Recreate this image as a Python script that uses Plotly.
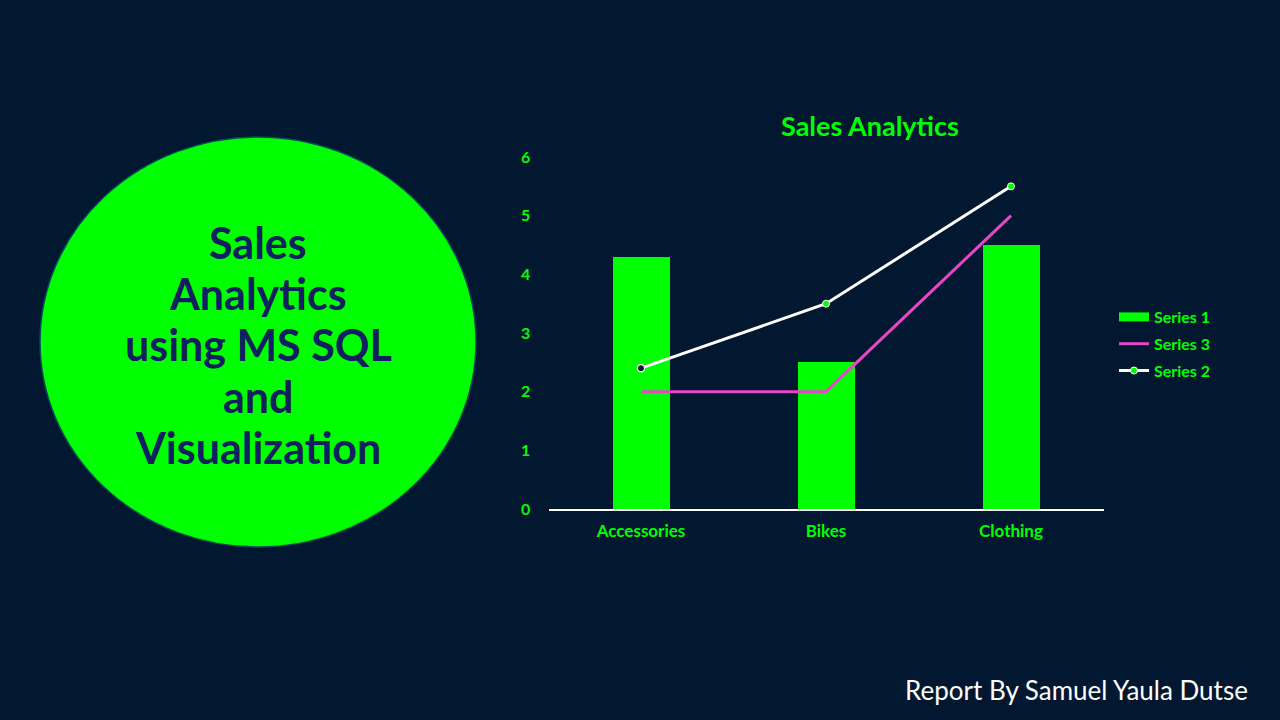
import plotly.graph_objects as go

categories = ["Accessories", "Bikes", "Clothing"]
series1 = [4.3, 2.5, 4.5]
series2 = [2.4, 3.5, 5.5]
series3 = [2.0, 2.0, 5.0]
y_ticks = [0, 1, 2, 3, 4, 5, 6]
circle_lines = ["Sales", "Analytics", "using MS SQL", "and", "Visualization"]

BG = "#021730"
GREEN = "#00FF00"
NAVY = "#0E2060"
PINK = "#E845C8"
FONT = "Lato"

fig = go.Figure()
# bars (legend entry drawn as a wide swatch via a legend-only trace)
fig.add_trace(go.Bar(x=categories, y=series1, name="Series 1", showlegend=False,
                     legendgroup="s1",
                     marker=dict(color=GREEN, line=dict(width=0)), width=0.31))
fig.add_trace(go.Scatter(x=[None], y=[None], name="Series 1", mode="lines",
                         legendgroup="s1", line=dict(color=GREEN, width=9)))
fig.add_trace(go.Scatter(x=categories, y=series3, name="Series 3", mode="lines",
                         legendgroup="s3", line=dict(color=PINK, width=3)))
fig.add_trace(go.Scatter(x=categories, y=series2, name="Series 2", mode="lines+markers",
                         legendgroup="s2",
                         line=dict(color="white", width=3),
                         marker=dict(size=7, color=GREEN,
                                     line=dict(color="white", width=1))))
# first point of Series 2 drawn hollow as in the reference
fig.add_trace(go.Scatter(x=categories[:1], y=series2[:1], mode="markers",
                         showlegend=False, legendgroup="s2",
                         marker=dict(size=7, color=BG, line=dict(color="white", width=1.2))))

fig.update_layout(
    width=1280, height=720, autosize=False,
    paper_bgcolor=BG, plot_bgcolor=BG,
    margin=dict(l=0, r=0, t=0, b=0, pad=0, autoexpand=False),
    font=dict(family=FONT, color=GREEN),
    showlegend=True,
    legend=dict(x=1114/1280, y=(720-344)/720, xanchor="left", yanchor="middle",
                font=dict(family=FONT, size=16, color=GREEN, weight="bold"),
                bgcolor="rgba(0,0,0,0)", itemwidth=30, tracegroupgap=3,
                traceorder="grouped"),
    xaxis=dict(domain=[548.5/1280, 1103.5/1280], showgrid=False,
               showline=True, linecolor="white", linewidth=1.5,
               tickfont=dict(family=FONT, size=17, color=GREEN, weight="bold"),
               ticks="outside", ticklen=6, tickcolor="rgba(0,0,0,0)", zeroline=False,
               automargin=False),
    yaxis=dict(domain=[(720-509)/720, (720-157)/720], range=[0, 6],
               tickvals=y_ticks, showgrid=False, zeroline=False, showline=False,
               tickfont=dict(family=FONT, size=16, color=GREEN, weight="bold"),
               ticks="outside", ticklen=14, tickcolor="rgba(0,0,0,0)",
               automargin=False),
    bargap=0,
)

fig.add_annotation(text="Sales Analytics", xref="paper", yref="paper",
                   x=870/1280, y=(720-125)/720, xanchor="center", yanchor="middle",
                   showarrow=False,
                   font=dict(family=FONT, size=27, color=GREEN, weight="bold"))

fig.add_shape(type="circle", xref="paper", yref="paper",
              x0=40/1280, x1=476/1280, y0=(720-547)/720, y1=(720-137)/720,
              fillcolor=GREEN, line=dict(color="#0B4A55", width=1.5), layer="below")

line_centres = [242, 293, 344, 396, 447]
for txt, yc in zip(circle_lines, line_centres):
    fig.add_annotation(text=txt, xref="paper", yref="paper", x=258/1280, y=(720-yc)/720,
                       xanchor="center", yanchor="middle", showarrow=False,
                       font=dict(family=FONT, size=43, color=NAVY, weight="bold"))

fig.add_annotation(text="Report By Samuel Yaula Dutse", xref="paper", yref="paper",
                   x=1250/1280, y=(720-690)/720, xanchor="right", yanchor="middle",
                   showarrow=False, font=dict(family=FONT, size=26, color="white"))

fig.write_html("out.html", config={"displayModeBar": False},
               post_script="document.body.style.margin='0';"
                           "document.body.style.background='#021730';"
                           "document.body.style.overflow='hidden';")
